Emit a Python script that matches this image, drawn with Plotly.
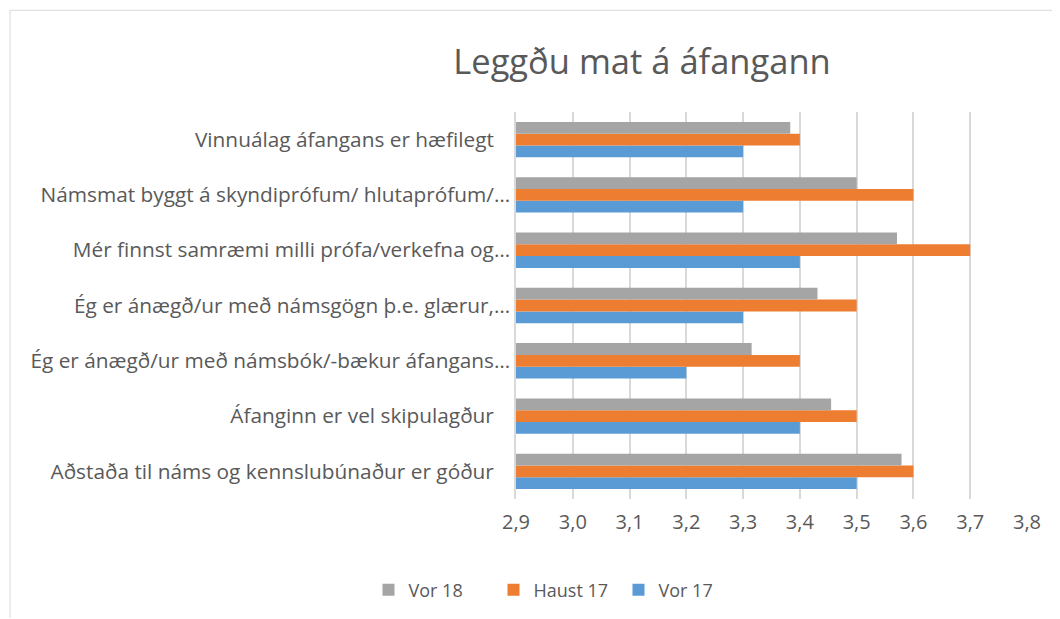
import plotly.graph_objects as go

NB = "\u00a0"
categories = [
    "Aðstaða til náms og kennslubúnaður er góður" + NB * 3,
    "Áfanginn er vel skipulagður" + NB * 3,
    "Ég er ánægð/ur með námsbók/-bækur áfangans…",
    "Ég er ánægð/ur með námsgögn þ.e. glærur,…",
    "Mér finnst samræmi milli prófa/verkefna og…",
    "Námsmat byggt á skyndiprófum/ hlutaprófum/…",
    "Vinnuálag áfangans er hæfilegt" + NB * 3,
]
vor17 = [3.5, 3.4, 3.2, 3.3, 3.4, 3.3, 3.3]
haust17 = [3.6, 3.5, 3.4, 3.5, 3.7, 3.6, 3.4]
vor18 = [3.579, 3.455, 3.315, 3.431, 3.571, 3.5, 3.383]

series = [("Vor 17", vor17, "#5B9BD5"), ("Haust 17", haust17, "#ED7D31"), ("Vor 18", vor18, "#A5A5A5")]

fig = go.Figure()
for name, vals, col in series:
    fig.add_trace(go.Bar(y=categories, x=vals, name=name, orientation="h",
                         marker=dict(color=col, line=dict(width=0))))

OFF = 8  # page body margin
W, H = 1052, 611
# target page coordinates
PL, PR, PT, PB = 516, 1027, 112, 500
L, T = PL - OFF, PT - OFF
R = W - (PR - OFF)
B = H - (PB - OFF)
pw, ph = W - L - R, H - T - B

def px(x):
    return (x - OFF - L) / pw

def py(y):
    return (H - B - (y - OFF)) / ph

FONT = "Open Sans, sans-serif"
fig.update_layout(
    width=W, height=H,
    margin=dict(l=L, r=R, t=T, b=B),
    paper_bgcolor="white", plot_bgcolor="white",
    font=dict(family=FONT, color="#595959", size=18),
    title=dict(text="Leggðu mat á áfangann", x=(642 - OFF) / W, xanchor="center",
               y=1 - (62 - OFF) / H, yanchor="middle", font=dict(size=34.5, color="#595959")),
    barmode="group", bargap=0.36, bargroupgap=0.0,
    separators=",.",
    showlegend=True,
    legend=dict(orientation="h", traceorder="reversed", x=px(556), xanchor="center",
                y=py(590), yanchor="middle", font=dict(size=18, color="#595959"),
                itemwidth=30, entrywidth=80),
    xaxis=dict(range=[2.9, 3.8], dtick=0.1, tick0=2.9, tickformat=".1f",
               showgrid=True, gridcolor="#D9D9D9", gridwidth=1.5, zeroline=False,
               showline=False, ticks="", ticklabelstandoff=9,
               tickfont=dict(size=20, color="#595959")),
    yaxis=dict(showgrid=False, showline=True, linecolor="#D9D9D9", linewidth=1.5,
               ticks="", ticklabelstandoff=0, tickfont=dict(size=20.8, color="#595959")),
    shapes=[
        dict(type="line", xref="paper", yref="paper", x0=px(10), x1=px(10), y0=py(10), y1=py(619),
             line=dict(color="#D9D9D9", width=1)),
        dict(type="line", xref="paper", yref="paper", x0=px(10), x1=px(1060), y0=py(10), y1=py(10),
             line=dict(color="#D9D9D9", width=1)),
    ],
)

fig.write_html("out.html")
